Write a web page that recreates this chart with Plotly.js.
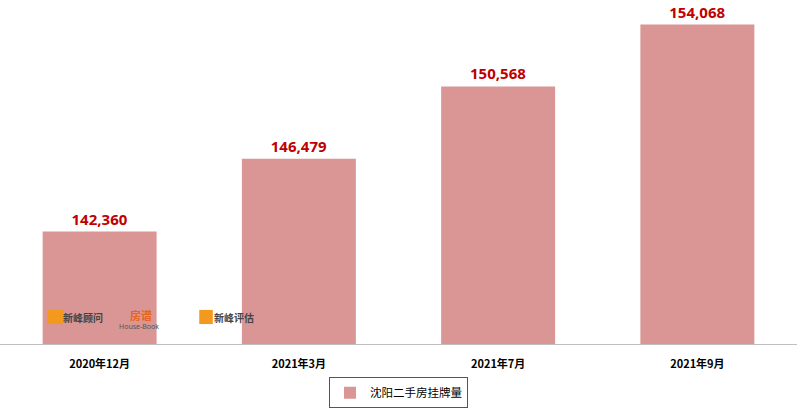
<!DOCTYPE html>
<html>
<head>
<meta charset="utf-8">
<script src="https://cdn.plot.ly/plotly-3.0.1.min.js"></script>
<style>html,body{margin:0;padding:0;background:#fff;}#chart{width:805px;height:409px;}</style>
</head>
<body>
<div id="chart"></div>
<script>
const categories = ["2020年12月", "2021年3月", "2021年7月", "2021年9月"];
const listings = [142360, 146479, 150568, 154068];
const seriesName = "沈阳二手房挂牌量";
const axisMin = 136000;

const labels = listings.map(v => v.toLocaleString("en-US"));

const trace = {
  type: "bar",
  x: categories,
  y: listings.map(v => v - axisMin),
  base: axisMin,
  name: seriesName,
  marker: {color: "#D99694"},
  text: labels,
  textposition: "outside",
  cliponaxis: false,
  textfont: {family: "Noto Sans, sans-serif", size: 15, color: "#C00000", weight: "bold"},
  hoverinfo: "skip"
};

const layout = {
  width: 805, height: 409,
  margin: {l: 0, r: 8, t: 0, b: 65, autoexpand: false},
  paper_bgcolor: "#fff", plot_bgcolor: "#fff",
  bargap: 0.428,
  showlegend: true,
  legend: {
    orientation: "h", x: 0.5, xanchor: "center", y: -0.097, yanchor: "top",
    bordercolor: "#555", borderwidth: 1,
    font: {family: "Noto Sans CJK SC, sans-serif", size: 11.5, color: "#000"},
    itemwidth: 20, tracegroupgap: 0
  },
  xaxis: {
    type: "category",
    showline: true, linecolor: "#BFBFBF", linewidth: 1,
    ticks: "", showgrid: false, ticklabelstandoff: 10,
    tickfont: {family: "Noto Sans CJK SC, sans-serif", size: 11, color: "#000", weight: "bold"}
  },
  yaxis: {
    range: [axisMin, 155460],
    visible: false, showgrid: false, zeroline: false
  },
  annotations: [
    {xref: "paper", yref: "paper", x: 0.104, y: 0.078, text: "新峰顾问", showarrow: false,
     font: {family: "Noto Sans CJK SC, sans-serif", size: 10, color: "#444", weight: "bold"}, xanchor: "center", yanchor: "middle"},
    {xref: "paper", yref: "paper", x: 0.177, y: 0.083, text: "房谱", showarrow: false,
     font: {family: "Noto Sans CJK SC, sans-serif", size: 11, color: "#E8631C", weight: "bold"}, xanchor: "center", yanchor: "middle"},
    {xref: "paper", yref: "paper", x: 0.174, y: 0.052, text: "House-Book", showarrow: false,
     font: {family: "Noto Sans, sans-serif", size: 7, color: "#555"}, xanchor: "center", yanchor: "middle"},
    {xref: "paper", yref: "paper", x: 0.294, y: 0.078, text: "新峰评估", showarrow: false,
     font: {family: "Noto Sans CJK SC, sans-serif", size: 10, color: "#444", weight: "bold"}, xanchor: "center", yanchor: "middle"}
  ],
  shapes: [
    {type: "rect", xref: "paper", yref: "paper", x0: 0.059, x1: 0.079, y0: 0.058, y1: 0.099,
     fillcolor: "#F39A1E", line: {width: 0}},
    {type: "rect", xref: "paper", yref: "paper", x0: 0.25, x1: 0.267, y0: 0.058, y1: 0.099,
     fillcolor: "#F39A1E", line: {width: 0}}
  ]
};

Plotly.newPlot("chart", [trace], layout, {displayModeBar: false, staticPlot: true});
</script>
</body>
</html>
